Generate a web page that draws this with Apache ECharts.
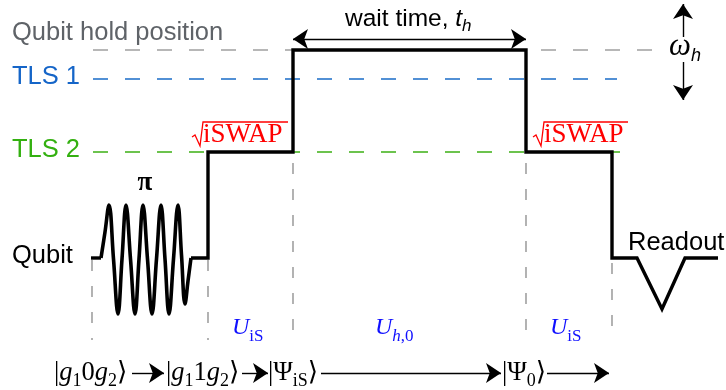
<!DOCTYPE html>
<html><head><meta charset="utf-8">
<script src="https://cdn.jsdelivr.net/npm/echarts@6/dist/echarts.min.js"></script>
<style>html,body{margin:0;padding:0;background:#fff}#c{width:726px;height:390px}</style>
</head><body><div id="c"></div>
<script>
// ---- schematic data (units: layout units, y grows downward) ----
const levelNames = ['Qubit hold position', 'TLS 1', 'TLS 2', 'Qubit'];
const levelY = [50, 79, 152, 258];
const levelLineStart = [93, 93, 93];
const levelLineEnd = [655, 617, 620];

// flux pulse (step part) and pi-pulse oscillation (peaks, troughs and mid-crossings)
const pulseLead = [[91, 258], [101, 258]];
const piWave = [[101, 258], [105, 232], [109, 205], [113.5, 259], [118, 314], [122, 259], [126, 205], [130.5, 259], [135, 314], [139, 259], [143, 205], [147.5, 259], [152, 314], [156.5, 259], [161, 205], [165, 259], [169, 314], [173.5, 259], [178, 205], [181.5, 255], [185, 304], [188, 281], [191, 258]];
const pulseSteps = [[191, 258], [208, 258], [208, 152], [293, 152], [293, 50], [526, 50], [526, 152], [612, 152], [612, 258], [637, 258], [662, 309], [685, 258], [718, 258]];

// time separators
const sepX = [92, 208, 293, 526, 612];
const sepTop = [260, 260, 163, 163, 263];
const sepBottom = 340;

// sqrt(iSWAP) marks
const sqrtMarks = [
  {x0: 192, x1: 288},
  {x0: 533, x1: 628}
];
const sqrtTop = 122, sqrtBase = 146;

// unitary labels
const unitaries = [
  {x: 232, sub: '{s|iS}'},
  {x: 375, sub: '{si|h}{s|,0}'},
  {x: 550, sub: '{s|iS}'}
];
const unitaryY = 328;

// state arrows along the bottom
const stateY = 373;
const stateArrows = [[132, 164], [242, 268], [321, 501], [547, 609]];
const states = [
  {x: 54, f: '{n||}{i|g}{s|1}{n|0}{i|g}{s|2}{n|⟩}'},
  {x: 166, f: '{n||}{i|g}{s|1}{n|1}{i|g}{s|2}{n|⟩}'},
  {x: 268, f: '{n||Ψ}{s|iS}{n|⟩}'},
  {x: 502, f: '{n||Ψ}{s|0}{n|⟩}'}
];

// wait-time arrow and omega_h arrows
const waitArrow = [[293, 39], [526, 39]];
const omegaX = 683;
const omegaUp = [[omegaX, 37], [omegaX, 4]];
const omegaDown = [[omegaX, 62], [omegaX, 100]];

// ---- styling ----
const SANS = "'Liberation Sans', Arial, sans-serif";
const SERIF = "'Liberation Serif', 'DejaVu Serif', serif";
const levelColors = ['#a0a0a0', '#1a6cc8', '#3cb015'];
const levelTextColors = ['#5f6368', '#1565c8', '#33b010', '#000000'];
const mathBlue = '#1010ff';

const series = [];

// level dashed lines
for (let i = 0; i < 3; i++) {
  series.push({
    type: 'line', data: [[levelLineStart[i], levelY[i]], [levelLineEnd[i], levelY[i]]],
    symbol: 'none', silent: true, z: 1,
    lineStyle: {color: levelColors[i], width: 1.6, type: [15, 17]}
  });
}
// separators
sepX.forEach((x, i) => {
  series.push({
    type: 'line', data: [[x, sepTop[i]], [x, sepBottom]], symbol: 'none', silent: true, z: 1,
    lineStyle: {color: '#a0a0a0', width: 1.6, type: [11, 15]}
  });
});
// pulse
const BL = {color: '#000', width: 3.4, join: 'miter', cap: 'butt'};
series.push({type: 'line', data: pulseLead, symbol: 'none', z: 5, lineStyle: BL});
series.push({type: 'line', data: piWave, symbol: 'none', smooth: 0.4, z: 5, lineStyle: {color: '#000', width: 3.6, join: 'round'}});
series.push({type: 'line', data: pulseSteps, symbol: 'none', z: 5, lineStyle: BL});

// sqrt marks
sqrtMarks.forEach(m => {
  series.push({
    type: 'line', symbol: 'none', z: 6,
    data: [[m.x0, sqrtBase - 9], [m.x0 + 3, sqrtBase - 11], [m.x0 + 8, sqrtBase], [m.x0 + 11, sqrtTop], [m.x1, sqrtTop]],
    lineStyle: {color: '#ff0000', width: 1.3, join: 'miter'}
  });
});

// arrows
const AL = {color: '#000', width: 1.4, opacity: 1, curveness: 0};
series.push({
  type: 'lines', coordinateSystem: 'cartesian2d', z: 6,
  symbol: ['none', 'arrow'], symbolSize: 15, lineStyle: AL,
  data: stateArrows.map(a => ({coords: [[a[0], stateY], [a[1], stateY]]}))
});
series.push({
  type: 'lines', coordinateSystem: 'cartesian2d', z: 6,
  symbol: ['arrow', 'arrow'], symbolSize: 15, lineStyle: AL,
  data: [{coords: waitArrow}]
});
series.push({
  type: 'lines', coordinateSystem: 'cartesian2d', z: 6,
  symbol: ['none', 'arrow'], symbolSize: 15, lineStyle: AL,
  data: [{coords: omegaUp}, {coords: omegaDown}]
});

// text labels via scatter with zero-size symbols
function textPoint(x, y, formatter, rich, align) {
  return {
    value: [x, y],
    itemStyle: {opacity: 1},
    label: {
      show: true, position: [0, 0], align: align || 'left', verticalAlign: 'middle',
      formatter: formatter, rich: rich, opacity: 1
    }
  };
}
const texts = [];
levelNames.forEach((n, i) => {
  texts.push(textPoint(12, levelY[i] === 50 ? 33 : levelY[i] - 2, '{t|' + n + '}', {t: {fontFamily: SANS, fontSize: 25.5, color: levelTextColors[i]}}));
});
texts.push(textPoint(628, 243, '{t|Readout}', {t: {fontFamily: SANS, fontSize: 25.5, color: '#000'}}));
texts.push(textPoint(145, 183, '{t|π}', {t: {fontFamily: SERIF, fontSize: 27, fontWeight: 'bold', color: '#000'}}, 'center'));
texts.push(textPoint(345, 19, '{t|wait time, }{i|t}{s|h}', {
  t: {fontFamily: SANS, fontSize: 24.5, color: '#000', lineHeight: 32},
  i: {fontFamily: SANS, fontSize: 24.5, fontStyle: 'italic', color: '#000', lineHeight: 32},
  s: {fontFamily: SANS, fontSize: 17, fontStyle: 'italic', color: '#000', verticalAlign: 'bottom', lineHeight: 32}
}));
texts.push(textPoint(669, 47, '{w|ω}{s|h}', {
  w: {fontFamily: SERIF, fontSize: 31, fontStyle: 'italic', color: '#000', lineHeight: 36},
  s: {fontFamily: SANS, fontSize: 18, fontStyle: 'italic', color: '#000', verticalAlign: 'bottom', lineHeight: 36}
}));
sqrtMarks.forEach(m => {
  texts.push(textPoint(m.x0 + 11, 135, '{t|iSWAP}', {t: {fontFamily: SERIF, fontSize: 27, color: '#ff0000'}}));
});
unitaries.forEach(u => {
  texts.push(textPoint(u.x, unitaryY, '{u|U}' + u.sub, {
    u: {fontFamily: SERIF, fontSize: 24, fontStyle: 'italic', color: mathBlue, lineHeight: 34},
    s: {fontFamily: SERIF, fontSize: 17, color: mathBlue, verticalAlign: 'bottom', lineHeight: 34},
    si: {fontFamily: SERIF, fontSize: 17, fontStyle: 'italic', color: mathBlue, verticalAlign: 'bottom', lineHeight: 34}
  }));
});
const stateRich = {
  n: {fontFamily: SERIF, fontSize: 26.5, color: '#000', lineHeight: 34},
  i: {fontFamily: SERIF, fontSize: 26.5, fontStyle: 'italic', color: '#000', lineHeight: 34},
  s: {fontFamily: SERIF, fontSize: 18, color: '#000', verticalAlign: 'bottom', lineHeight: 34}
};
states.forEach(s => texts.push(textPoint(s.x, stateY, s.f, stateRich)));

series.push({type: 'scatter', symbolSize: 0, data: texts, z: 10, silent: true, itemStyle: {opacity: 1}});

const chart = echarts.init(document.getElementById('c'), null, {renderer: 'canvas'});
chart.setOption({
  animation: false,
  backgroundColor: '#fff',
  grid: {left: 0, right: 0, top: 0, bottom: 0},
  xAxis: {type: 'value', min: 0, max: 726, show: false},
  yAxis: {type: 'value', min: 0, max: 390, inverse: true, show: false},
  series: series
});
</script>
</body></html>
